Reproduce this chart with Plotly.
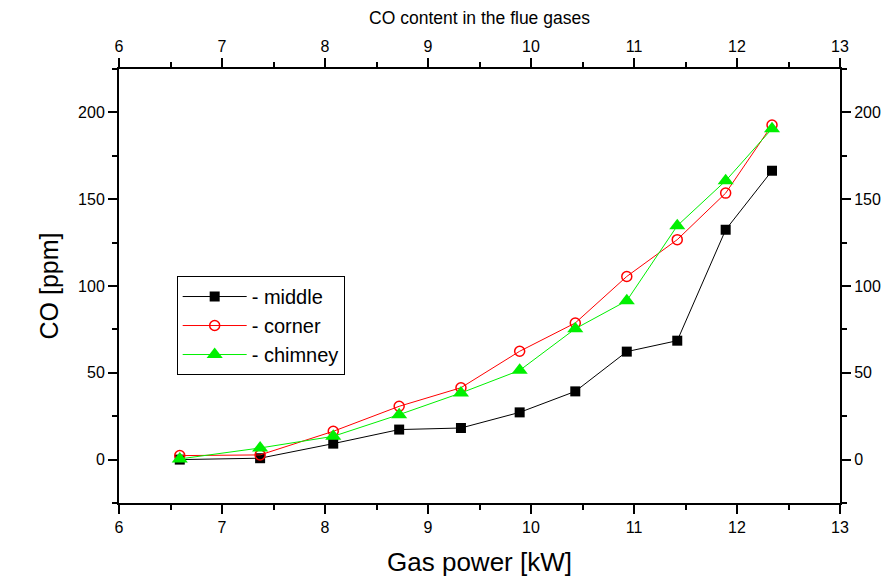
import plotly.graph_objects as go

gas_power = [6.59, 7.37, 8.08, 8.72, 9.32, 9.89, 10.43, 10.93, 11.42, 11.89, 12.34]
co_middle = [0.0, 0.8, 9.2, 17.3, 18.2, 27.2, 39.3, 62.2, 68.5, 132.4, 166.4]
co_corner = [2.3, 2.7, 16.3, 30.7, 41.4, 62.4, 78.7, 105.5, 126.7, 153.5, 192.7]
co_chimney = [0.4, 6.7, 13.4, 25.9, 38.4, 51.4, 75.4, 91.5, 134.7, 160.6, 190.6]

FONT = "Liberation Sans, Arial, sans-serif"

fig = go.Figure()
fig.add_trace(go.Scatter(x=gas_power, y=co_middle, mode="lines+markers", name="- middle",
                         line=dict(color="black", width=1),
                         marker=dict(symbol="square", size=10, color="black")))
fig.add_trace(go.Scatter(x=gas_power, y=co_corner, mode="lines+markers", name="- corner",
                         line=dict(color="#ff0000", width=1),
                         marker=dict(symbol="circle-open", size=10, color="#ff0000", line=dict(width=1.5))))
fig.add_trace(go.Scatter(x=gas_power, y=co_chimney, mode="lines+markers", name="- chimney",
                         line=dict(color="#00f000", width=1),
                         marker=dict(symbol="triangle-up", size=14, color="#00f000")))
# invisible trace to activate secondary axes
fig.add_trace(go.Scatter(x=gas_power, y=co_middle, xaxis="x2", yaxis="y2", mode="markers",
                         marker=dict(opacity=0), showlegend=False, hoverinfo="skip"))

axis_common = dict(showline=True, linecolor="black", linewidth=2, ticks="outside",
                   ticklen=9, tickwidth=2, tickcolor="black", showgrid=False, zeroline=False,
                   automargin=False,
                   tickfont=dict(family=FONT, size=16, color="black"))
minor_x = dict(dtick=0.5, ticklen=5, tickwidth=2, tickcolor="black", ticks="outside")
minor_y = dict(dtick=25, ticklen=5, tickwidth=2, tickcolor="black", ticks="outside")

fig.update_layout(
    width=884, height=581,
    margin=dict(l=119, r=44, t=69, b=78),
    paper_bgcolor="white", plot_bgcolor="white",
    font=dict(family=FONT, color="black"),
    xaxis=dict(range=[6, 13], dtick=1, tick0=6, minor=minor_x,
               title=dict(text="Gas power [kW]", font=dict(family=FONT, size=26), standoff=18),
               **axis_common),
    yaxis=dict(range=[-25, 225], dtick=50, tick0=0, minor=minor_y,
               title=dict(text="CO [ppm]", font=dict(family=FONT, size=25), standoff=12),
               **axis_common),
    xaxis2=dict(range=[6, 13], dtick=1, tick0=6, overlaying="x", side="top", anchor="y",
                minor=minor_x,
                title=dict(text="CO content in the flue gases", font=dict(family=FONT, size=17.5), standoff=8),
                **axis_common),
    yaxis2=dict(range=[-25, 225], dtick=50, tick0=0, overlaying="y", side="right", anchor="x",
                minor=minor_y, **axis_common),
    legend=dict(x=0.08, y=0.523, xanchor="left", yanchor="top",
                bordercolor="black", borderwidth=1, bgcolor="white",
                font=dict(family=FONT, size=20, color="black"),
                itemwidth=64, tracegroupgap=0),
    showlegend=True,
)

fig.write_html("out.html")
